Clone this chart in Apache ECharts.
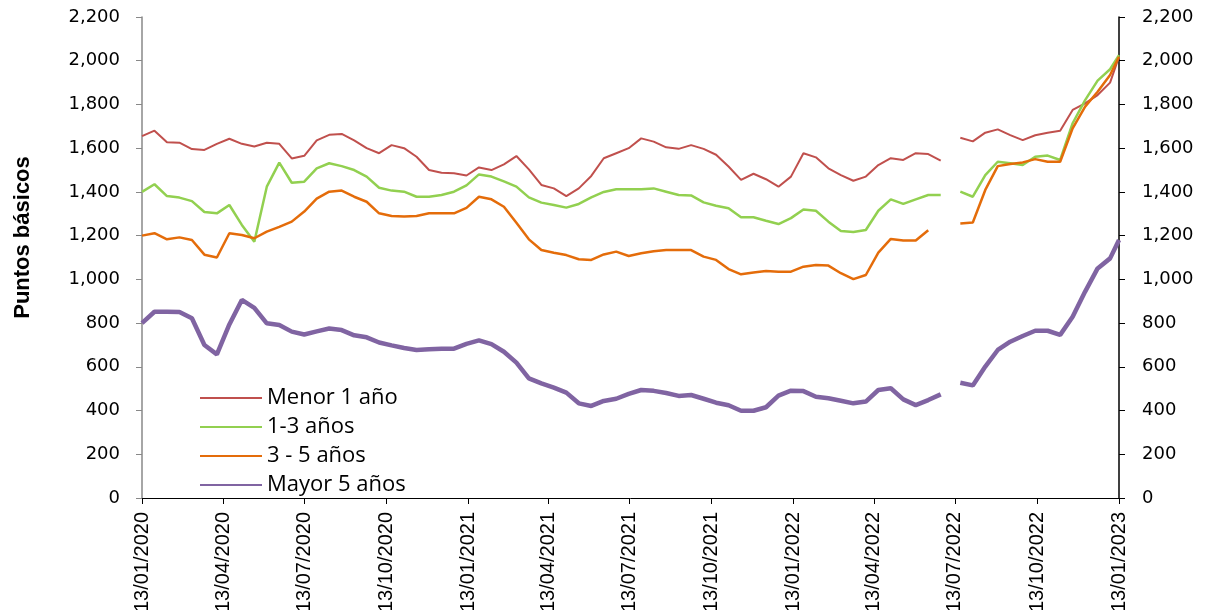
<!DOCTYPE html>
<html>
<head>
<meta charset="utf-8">
<script src="https://cdn.jsdelivr.net/npm/echarts@6/dist/echarts.min.js"></script>
<style>
  html, body { margin: 0; padding: 0; background: #fff; }
  #chart { width: 1212px; height: 610px; }
</style>
</head>
<body>
<div id="chart"></div>
<script>
// fechas de observación (quincenales); el hueco de julio 2022 va con null
const dates = [
  '2020-01-13', '2020-01-27', '2020-02-10', '2020-02-24', '2020-03-09', '2020-03-23', '2020-04-06', '2020-04-20',
  '2020-05-04', '2020-05-18', '2020-06-01', '2020-06-15', '2020-06-29', '2020-07-13', '2020-07-27', '2020-08-10',
  '2020-08-24', '2020-09-07', '2020-09-21', '2020-10-05', '2020-10-19', '2020-11-02', '2020-11-16', '2020-11-30',
  '2020-12-14', '2020-12-28', '2021-01-11', '2021-01-25', '2021-02-08', '2021-02-22', '2021-03-08', '2021-03-22',
  '2021-04-05', '2021-04-19', '2021-05-03', '2021-05-17', '2021-05-31', '2021-06-14', '2021-06-28', '2021-07-12',
  '2021-07-26', '2021-08-09', '2021-08-23', '2021-09-06', '2021-09-20', '2021-10-04', '2021-10-18', '2021-11-01',
  '2021-11-15', '2021-11-29', '2021-12-13', '2021-12-27', '2022-01-10', '2022-01-24', '2022-02-07', '2022-02-21',
  '2022-03-07', '2022-03-21', '2022-04-04', '2022-04-18', '2022-05-02', '2022-05-16', '2022-05-30', '2022-06-13',
  '2022-06-27', '2022-07-08',
  '2022-07-19', '2022-08-02', '2022-08-16', '2022-08-30', '2022-09-13', '2022-09-27', '2022-10-11', '2022-10-25',
  '2022-11-08', '2022-11-22', '2022-12-06', '2022-12-20', '2023-01-03', '2023-01-13'
];

const menor1 = [
  1655, 1680, 1627, 1625, 1596, 1592, 1620, 1643, 1620, 1608, 1625, 1620, 1553, 1565, 1636, 1661,
  1665, 1636, 1600, 1577, 1614, 1600, 1561, 1500, 1488, 1485, 1475, 1512, 1500, 1526, 1564, 1503,
  1432, 1416, 1381, 1416, 1473, 1554, 1577, 1600, 1645, 1630, 1604, 1597, 1614, 1597, 1570, 1516,
  1455, 1483, 1458, 1424, 1470, 1577, 1558, 1508, 1477, 1451, 1470, 1523, 1554, 1546, 1577, 1573,
  1543, null,
  1648, 1631, 1671, 1686, 1660, 1637, 1659, 1671, 1680, 1775, 1805, 1843, 1900, 2018
];

const de1a3 = [
  1400, 1435, 1381, 1374, 1358, 1308, 1302, 1340, 1249, 1172, 1424, 1534, 1442, 1447, 1508, 1531,
  1518, 1500, 1470, 1419, 1406, 1401, 1378, 1378, 1386, 1401, 1430, 1480, 1470, 1448, 1424, 1375,
  1351, 1340, 1328, 1345, 1375, 1400, 1412, 1412, 1412, 1416, 1401, 1386, 1384, 1352, 1337, 1325,
  1284, 1284, 1268, 1253, 1280, 1320, 1314, 1264, 1221, 1217, 1226, 1314, 1366, 1345, 1366, 1386,
  1386, null,
  1401, 1378, 1477, 1538, 1531, 1523, 1561, 1566, 1546, 1714, 1820, 1909, 1961, 2026
];

const de3a5 = [
  1200, 1211, 1183, 1192, 1180, 1113, 1100, 1211, 1203, 1188, 1218, 1240, 1264, 1310, 1369, 1401,
  1406, 1378, 1355, 1302, 1290, 1287, 1290, 1302, 1302, 1302, 1327, 1378, 1366, 1332, 1259, 1183,
  1134, 1122, 1111, 1092, 1089, 1114, 1127, 1107, 1119, 1129, 1134, 1134, 1134, 1104, 1089, 1047,
  1023, 1031, 1038, 1035, 1035, 1058, 1066, 1063, 1028, 1001, 1020, 1122, 1185, 1178, 1178, 1225,
  null, null,
  1256, 1260, 1409, 1518, 1528, 1535, 1550, 1538, 1538, 1691, 1790, 1858, 1935, 2018
];

const mayor5 = [
  800, 852, 852, 851, 822, 700, 657, 794, 906, 870, 799, 791, 761, 748, 762, 775,
  768, 744, 735, 711, 698, 686, 677, 680, 683, 683, 705, 721, 704, 669, 619, 547,
  524, 505, 482, 433, 421, 444, 454, 476, 494, 490, 480, 467, 471, 454, 436, 424,
  399, 399, 415, 468, 491, 489, 463, 456, 445, 433, 441, 494, 502, 451, 425, 448,
  474, null,
  527, 515, 601, 677, 715, 741, 765, 765, 746, 829, 944, 1050, 1096, 1180
];

// etiquetas del eje X (trimestrales)
const tickDates = [
  '2020-01-13', '2020-04-13', '2020-07-13', '2020-10-13', '2021-01-13', '2021-04-13', '2021-07-13',
  '2021-10-13', '2022-01-13', '2022-04-13', '2022-07-13', '2022-10-13', '2023-01-13'
];

const seriesNames = ['Menor 1 año', '1-3 años', '3 - 5 años', 'Mayor 5 años'];

function toTime(s) {
  const [y, m, d] = s.split('-').map(Number);
  return new Date(y, m - 1, d).getTime();
}

function fmtDate(v) {
  const d = new Date(v);
  const p = (n) => String(n).padStart(2, '0');
  return p(d.getDate()) + '/' + p(d.getMonth() + 1) + '/' + d.getFullYear();
}

const pairs = (arr) => dates.map((d, i) => [toTime(d), arr[i]]);
const tickTimes = tickDates.map(toTime);

const yLabel = {
  fontFamily: "'DejaVu Sans', sans-serif",
  fontSize: 18,
  color: '#000',
  formatter: (v) => v.toLocaleString('en-US'),
};

const chart = echarts.init(document.getElementById('chart'), null, { renderer: 'canvas' });

chart.setOption({
  animation: false,
  backgroundColor: '#fff',
  // las fechas giradas salen por abajo como en el original: no encoger la rejilla
  grid: { left: 142, right: 93, top: 17, bottom: 112, containLabel: false, outerBoundsMode: 'none' },
  legend: {
    orient: 'vertical',
    left: 194,
    top: 380,
    itemWidth: 62,
    itemHeight: 14,
    itemGap: 3,
    data: seriesNames,
    // solo la línea, sin el círculo del símbolo
    itemStyle: { opacity: 0 },
    textStyle: { fontFamily: "'Open Sans', sans-serif", fontSize: 22, color: '#000', lineHeight: 26 },
  },
  // eje de fechas como eje numérico (ms) para poder fijar las marcas trimestrales
  xAxis: {
    type: 'value',
    min: tickTimes[0],
    max: tickTimes[tickTimes.length - 1],
    axisLine: { lineStyle: { color: '#000', width: 1 } },
    axisTick: { show: true, length: 6, customValues: tickTimes, lineStyle: { color: '#000' } },
    axisLabel: {
      customValues: tickTimes,
      rotate: 90,
      margin: 14,
      fontFamily: "'Liberation Sans', Arial, sans-serif",
      fontSize: 20,
      color: '#000',
      formatter: fmtDate,
      showMinLabel: true,
      showMaxLabel: true,
      hideOverlap: false,
    },
    splitLine: { show: false },
  },
  yAxis: [
    {
      type: 'value',
      min: 0,
      max: 2200,
      interval: 200,
      position: 'left',
      name: 'Puntos básicos',
      nameLocation: 'middle',
      nameRotate: 90,
      nameGap: 108,
      nameTextStyle: {
        fontFamily: "'Liberation Sans', Arial, sans-serif",
        fontWeight: 'bold',
        fontSize: 22,
        color: '#000',
        // un poco por encima del centro del eje, como en el original
        padding: [0, 0, 0, 40],
      },
      axisLine: { show: true, lineStyle: { color: '#888', width: 1.5 } },
      axisTick: { show: true, length: 6, lineStyle: { color: '#888' } },
      axisLabel: { ...yLabel, margin: 22 },
      splitLine: { show: false },
    },
    {
      type: 'value',
      min: 0,
      max: 2200,
      interval: 200,
      position: 'right',
      axisLine: { show: true, lineStyle: { color: '#000', width: 1.5 } },
      axisTick: { show: true, length: 6, lineStyle: { color: '#000' } },
      axisLabel: { ...yLabel, margin: 23 },
      splitLine: { show: false },
    },
  ],
  series: [
    {
      name: seriesNames[0], type: 'line', symbol: 'none', connectNulls: false,
      lineStyle: { width: 2, color: '#C0504D' }, itemStyle: { color: '#C0504D' },
      data: pairs(menor1),
    },
    {
      name: seriesNames[1], type: 'line', symbol: 'none', connectNulls: false,
      lineStyle: { width: 2.5, color: '#92D050' }, itemStyle: { color: '#92D050' },
      data: pairs(de1a3),
    },
    {
      name: seriesNames[2], type: 'line', symbol: 'none', connectNulls: false,
      lineStyle: { width: 2.5, color: '#E46C0A' }, itemStyle: { color: '#E46C0A' },
      data: pairs(de3a5),
    },
    {
      name: seriesNames[3], type: 'line', symbol: 'none', connectNulls: false,
      lineStyle: { width: 4.5, color: '#8064A2' }, itemStyle: { color: '#8064A2' },
      data: pairs(mayor5),
    },
  ],
});
</script>
</body>
</html>
